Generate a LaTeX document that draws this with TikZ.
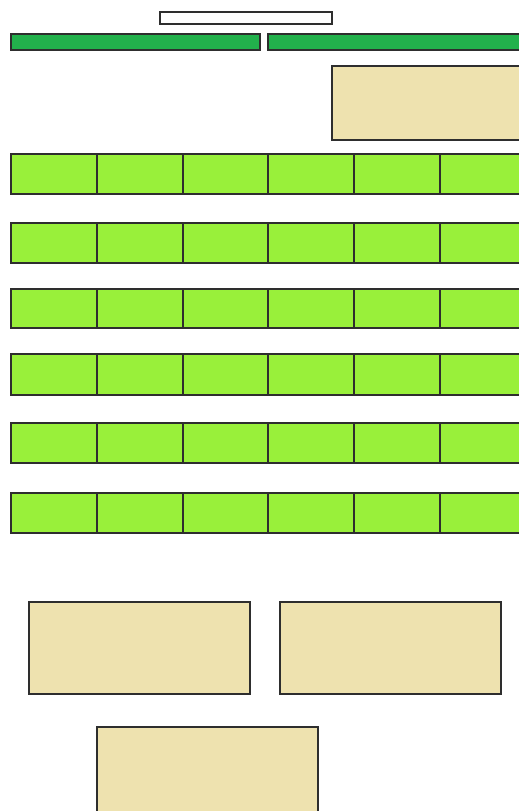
\documentclass[tikz,border=0pt]{standalone}
\definecolor{cellgreen}{HTML}{99F03A}
\definecolor{bargreen}{HTML}{22B14C}
\definecolor{tanfill}{HTML}{EEE2AF}
\definecolor{edge}{HTML}{2E2E2E}
\tikzset{
  box/.style={draw=edge, line width=1.2pt, inner sep=0pt, outer sep=0pt, anchor=north west},
  whitebox/.style={box, fill=white},
  barbox/.style={box, fill=bargreen},
  cellbox/.style={box, fill=cellgreen},
  tanbox/.style={box, fill=tanfill},
}
\begin{document}
\begin{tikzpicture}[x=1pt,y=-1pt]
\useasboundingbox (0,0) rectangle (519,811);
\clip (0,0) rectangle (519,811);
\fill[white] (0,0) rectangle (519,811);
% title bar
\node[whitebox, minimum width=172pt, minimum height=12pt] (title) at (160,12) {};
% green bars
\node[barbox, minimum width=249pt, minimum height=16pt] (barL) at (11,34) {};
\node[barbox, minimum width=260pt, minimum height=16pt] (barR) at (268,34) {};
% top right tan box
\node[tanbox, minimum width=195pt, minimum height=74pt] (tanTR) at (332,66) {};
% grid rows
\foreach \r/\y/\h in {1/154/40, 2/223/40, 3/289/39, 4/354/41, 5/423/40, 6/493/40}{
  \foreach \c/\x/\w in {1/11/86, 2/97/86, 3/183/85, 4/268/86, 5/354/86, 6/440/86}{
    \node[cellbox, minimum width=\w pt, minimum height=\h pt] (cell-\r-\c) at (\x,\y) {};
  }
}
% bottom tan boxes
\node[tanbox, minimum width=221pt, minimum height=92pt] (tanL) at (29,602) {};
\node[tanbox, minimum width=221pt, minimum height=92pt] (tanR) at (280,602) {};
\node[tanbox, minimum width=221pt, minimum height=92pt] (tanB) at (97,727) {};
\end{tikzpicture}
\end{document}
